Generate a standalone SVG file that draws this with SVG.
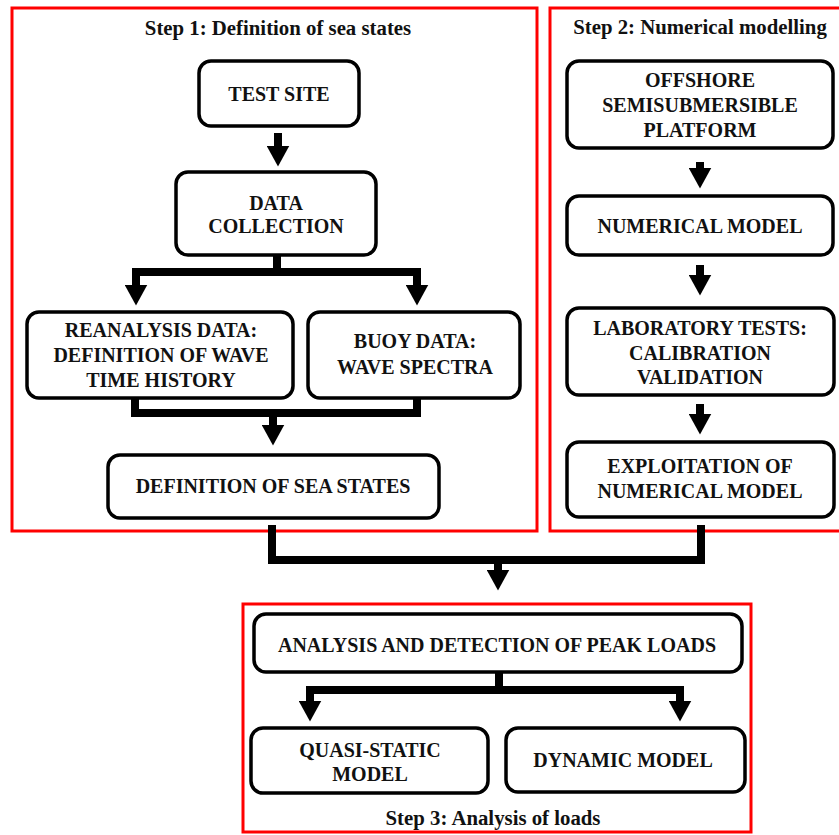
<svg xmlns="http://www.w3.org/2000/svg" width="839" height="835" viewBox="0 0 839 835">
<defs>
<style>
.frame{fill:none;stroke:#ff0000;stroke-width:3}
.box{fill:#ffffff;stroke:#000000;stroke-width:3.5}
.t{font-family:"Liberation Serif","Times New Roman",serif;font-weight:bold;font-size:20px;fill:#111111;text-anchor:middle}
.title{font-family:"Liberation Serif","Times New Roman",serif;font-weight:bold;font-size:20.8px;fill:#111111;text-anchor:middle}
.c{fill:none;stroke:#000000;stroke-width:8;stroke-linejoin:miter;stroke-linecap:butt}
</style>
<marker id="ah" markerUnits="userSpaceOnUse" viewBox="0 0 21 23" markerWidth="21" markerHeight="23" refX="0.5" refY="11.5" orient="auto">
<path d="M0,0 L21,11.5 L0,23 Z" fill="#000000"/>
</marker>
</defs>
<rect width="839" height="835" fill="#ffffff"/>

<g id="frames">
<rect class="frame" x="12" y="8" width="525" height="523"/>
<rect class="frame" x="550" y="8" width="295" height="523"/>
<rect class="frame" x="243" y="604" width="508" height="228"/>
<text class="title" x="278" y="35">Step 1: Definition of sea states</text>
<text class="title" x="700" y="34">Step 2: Numerical modelling</text>
<text class="title" x="493" y="825">Step 3: Analysis of loads</text>
</g>

<g id="connectors">
<path class="c" d="M278,133 V146" marker-end="url(#ah)"/>
<path class="c" d="M277,255 V272 H136 V285" marker-end="url(#ah)"/>
<path class="c" d="M277,272 H417 V285" marker-end="url(#ah)"/>
<path class="c" d="M135,398 V413 H417 V398"/>
<path class="c" d="M273,413 V425" marker-end="url(#ah)"/>
<path class="c" d="M700,162 V168" marker-end="url(#ah)"/>
<path class="c" d="M700,265 V275" marker-end="url(#ah)"/>
<path class="c" d="M700,404 V414" marker-end="url(#ah)"/>
<path class="c" d="M272,525 V560 H701 V525"/>
<path class="c" d="M498,560 V570" marker-end="url(#ah)"/>
<path class="c" d="M499,672 V690 H310 V701" marker-end="url(#ah)"/>
<path class="c" d="M499,690 H680 V701" marker-end="url(#ah)"/>
</g>

<g id="test-site">
<rect class="box" x="199" y="61" width="160" height="65" rx="12"/>
<text class="t" x="279" y="101">TEST SITE</text>
</g>
<g id="data-collection">
<rect class="box" x="176" y="172" width="200" height="83" rx="12"/>
<text class="t" x="276" y="210">DATA</text>
<text class="t" x="276" y="233">COLLECTION</text>
</g>
<g id="reanalysis-data">
<rect class="box" x="27" y="312" width="266" height="86" rx="12"/>
<text class="t" x="161" y="337">REANALYSIS DATA:</text>
<text class="t" x="161" y="362">DEFINITION OF WAVE</text>
<text class="t" x="161" y="387">TIME HISTORY</text>
</g>
<g id="buoy-data">
<rect class="box" x="308" y="312" width="212" height="86" rx="12"/>
<text class="t" x="415" y="348">BUOY DATA:</text>
<text class="t" x="415" y="374">WAVE SPECTRA</text>
</g>
<g id="definition-sea-states">
<rect class="box" x="108" y="455" width="331" height="63" rx="12"/>
<text class="t" x="273" y="493">DEFINITION OF SEA STATES</text>
</g>
<g id="offshore-platform">
<rect class="box" x="567" y="61" width="266" height="87" rx="12"/>
<text class="t" x="700" y="87">OFFSHORE</text>
<text class="t" x="700" y="112">SEMISUBMERSIBLE</text>
<text class="t" x="700" y="137">PLATFORM</text>
</g>
<g id="numerical-model">
<rect class="box" x="567" y="196" width="266" height="59" rx="12"/>
<text class="t" x="700" y="233">NUMERICAL MODEL</text>
</g>
<g id="laboratory-tests">
<rect class="box" x="567" y="308" width="267" height="87" rx="12"/>
<text class="t" x="700" y="335">LABORATORY TESTS:</text>
<text class="t" x="700" y="360">CALIBRATION</text>
<text class="t" x="700" y="384">VALIDATION</text>
</g>
<g id="exploitation">
<rect class="box" x="567" y="442" width="267" height="75" rx="12"/>
<text class="t" x="700" y="473">EXPLOITATION OF</text>
<text class="t" x="700" y="498">NUMERICAL MODEL</text>
</g>
<g id="analysis-detection">
<rect class="box" x="254" y="614" width="488" height="58" rx="12"/>
<text class="t" x="497" y="652">ANALYSIS AND DETECTION OF PEAK LOADS</text>
</g>
<g id="quasi-static">
<rect class="box" x="251" y="728" width="237" height="65" rx="12"/>
<text class="t" x="370" y="757">QUASI-STATIC</text>
<text class="t" x="370" y="781">MODEL</text>
</g>
<g id="dynamic-model">
<rect class="box" x="506" y="728" width="239" height="64" rx="12"/>
<text class="t" x="623" y="767">DYNAMIC MODEL</text>
</g>
</svg>
